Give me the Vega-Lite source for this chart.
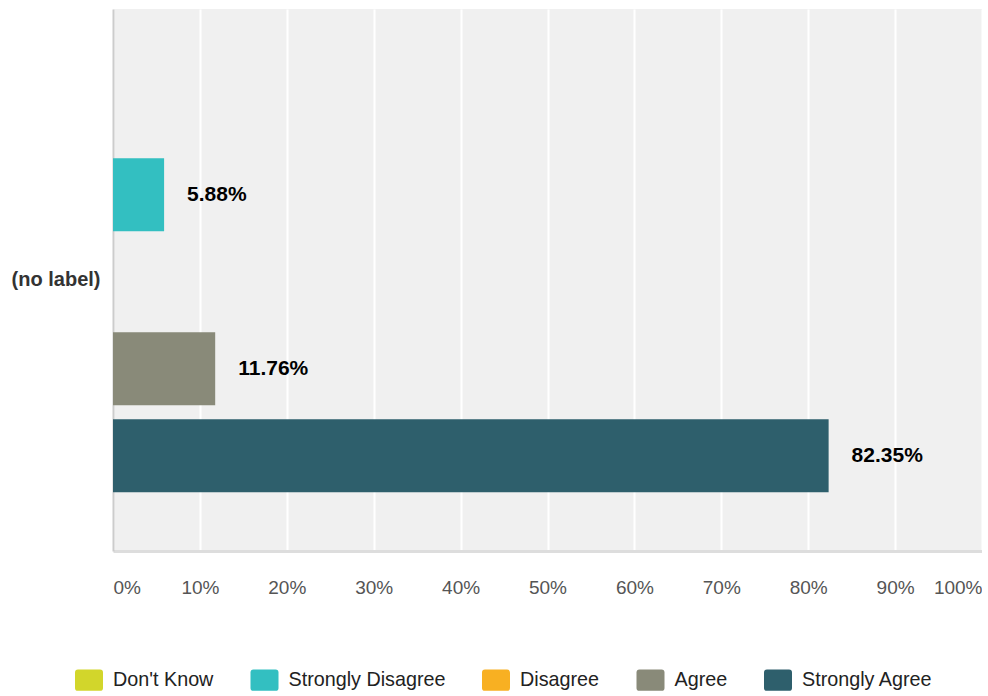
{
  "$schema": "https://vega.github.io/schema/vega-lite/v6.json",
  "width": 869,
  "height": 542,
  "padding": {"left": 5, "top": 9, "right": 0, "bottom": 0},
  "background": "white",
  "config": {
    "view": {"fill": "#f0f0f0", "stroke": null},
    "font": "Liberation Sans"
  },
  "data": {
    "values": [
      {"row": "(no label)", "answer": "Don't Know", "value": 0},
      {"row": "(no label)", "answer": "Strongly Disagree", "value": 0.0588},
      {"row": "(no label)", "answer": "Disagree", "value": 0},
      {"row": "(no label)", "answer": "Agree", "value": 0.1176},
      {"row": "(no label)", "answer": "Strongly Agree", "value": 0.8235}
    ]
  },
  "encoding": {
    "y": {
      "field": "row",
      "type": "nominal",
      "scale": {"paddingInner": 0, "paddingOuter": 0},
      "axis": {
        "title": null,
        "ticks": false,
        "domainColor": "#cccccc",
        "domainWidth": 2,
        "labelFontSize": 20,
        "labelFontWeight": "bold",
        "labelColor": "#333333",
        "labelPadding": 13,
        "minExtent": 108,
        "maxExtent": 108
      }
    },
    "yOffset": {
      "field": "answer",
      "type": "nominal",
      "sort": ["Don't Know", "Strongly Disagree", "Disagree", "Agree", "Strongly Agree"],
      "scale": {"paddingInner": 0.161, "paddingOuter": 0.695, "align": 0.515}
    },
    "x": {
      "field": "value",
      "type": "quantitative",
      "scale": {"domain": [0, 1]},
      "axis": {
        "title": null,
        "format": ".0%",
        "values": [0, 0.1, 0.2, 0.3, 0.4, 0.5, 0.6, 0.7, 0.8, 0.9, 1],
        "grid": true,
        "gridColor": "white",
        "gridWidth": 2,
        "ticks": false,
        "domainColor": "#dddddd",
        "domainWidth": 3,
        "labelFlush": true,
        "labelFontSize": 19,
        "labelColor": "#555555",
        "labelPadding": 27
      }
    }
  },
  "layer": [
    {
      "mark": {"type": "bar"},
      "encoding": {
        "color": {
          "field": "answer",
          "type": "nominal",
          "scale": {
            "domain": ["Don't Know", "Strongly Disagree", "Disagree", "Agree", "Strongly Agree"],
            "range": ["#d2d62b", "#33bfc1", "#f8b022", "#898a79", "#2e5f6c"]
          },
          "legend": {
            "title": null,
            "orient": "none",
            "direction": "horizontal",
            "columns": 5,
            "legendX": -38,
            "legendY": 657,
            "symbolType": "M-0.79,-0.76 L0.79,-0.76 Q1,-0.76 1,-0.55 L1,0.55 Q1,0.76 0.79,0.76 L-0.79,0.76 Q-1,0.76 -1,0.55 L-1,-0.55 Q-1,-0.76 -0.79,-0.76 Z",
            "symbolSize": 784,
            "symbolStrokeWidth": 0,
            "symbolOpacity": 1,
            "labelFontSize": 19.75,
            "labelColor": "#222222",
            "labelOffset": 10,
            "columnPadding": 36.5
          }
        }
      }
    },
    {
      "transform": [{"filter": "datum.value > 0"}],
      "mark": {
        "type": "text",
        "align": "left",
        "baseline": "middle",
        "dx": 23,
        "fontSize": 21,
        "fontWeight": "bold",
        "color": "black"
      },
      "encoding": {
        "text": {"field": "value", "type": "quantitative", "format": ".2%"}
      }
    }
  ]
}
